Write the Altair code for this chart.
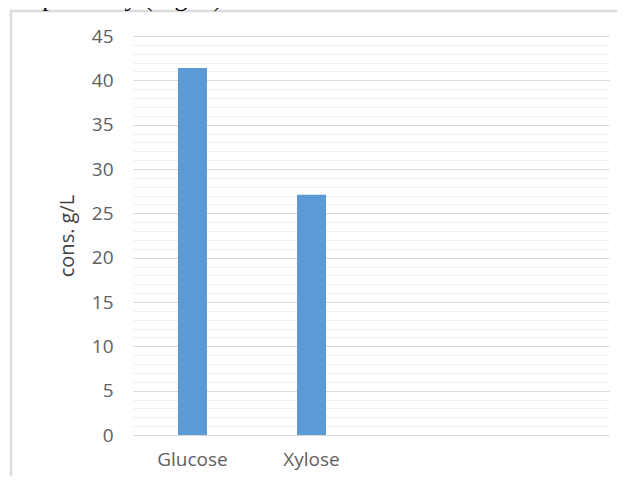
import altair as alt
import pandas as pd

# Data
categories = ["Glucose", "Xylose"]
values = [41.4, 27.1]
slots = ["Glucose", "Xylose", "slot3", "slot4"]   # Excel leaves two empty category slots
y_ticks = list(range(0, 46))                       # minor grid every 1, labels every 5
header_text = ["respectively  (Fig. 1)."]

bars_df = pd.DataFrame({"cat": categories, "val": values})
header_df = pd.DataFrame({"t": header_text})
frame_df = pd.DataFrame({"k": [0]})

FONT = "Open Sans"

bars = alt.Chart(bars_df).mark_bar(size=29, color="#5b9bd5").encode(
    x=alt.X(
        "cat:N",
        sort=slots,
        scale=alt.Scale(domain=slots, paddingInner=0, paddingOuter=0),
        axis=alt.Axis(
            title=None,
            labelAngle=0,
            labelExpr="(datum.value === 'Glucose' || datum.value === 'Xylose') ? datum.label : ''",
            labelFont=FONT,
            labelFontSize=19,
            labelColor="#5f5f5f",
            labelPadding=15,
            domain=False,
            ticks=False,
            grid=False,
        ),
    ),
    y=alt.Y(
        "val:Q",
        scale=alt.Scale(domain=[0, 45], nice=False, zero=True),
        axis=alt.Axis(
            values=y_ticks,
            labelExpr="datum.value % 5 === 0 ? datum.label : ''",
            labelOverlap=False,
            labelFont=FONT,
            labelFontSize=19,
            labelColor="#5f5f5f",
            labelPadding=20,
            domain=False,
            ticks=False,
            grid=True,
            gridColor=alt.condition("datum.value % 5 === 0", alt.value("#d9d9d9"), alt.value("#eeeeee")),
            gridWidth=1.2,
            title="cons. g/L",
            titleFont=FONT,
            titleFontSize=20,
            titleFontWeight="normal",
            titleColor="#404040",
            titlePadding=14,
        ),
    ),
)

frame = alt.Chart(frame_df).mark_rect(fillOpacity=0, stroke="#dcdcdc", strokeWidth=2.5).encode(
    x=alt.value(-122),
    x2=alt.value(700),
    y=alt.value(-25),
    y2=alt.value(500),
)

header = alt.Chart(header_df).mark_text(
    font="Liberation Serif", fontSize=26, align="left", baseline="alphabetic", color="black"
).encode(
    x=alt.value(-121),
    y=alt.value(-30),
    text="t:N",
)

chart = alt.layer(frame, bars, header).properties(
    width=476,
    height=399,
    padding={"left": 125, "top": 28, "right": 8, "bottom": 41},
    autosize=alt.AutoSizeParams(type="none"),
).configure_view(strokeWidth=0)

chart.save("out.html", embed_options={"renderer": "svg", "actions": False})
